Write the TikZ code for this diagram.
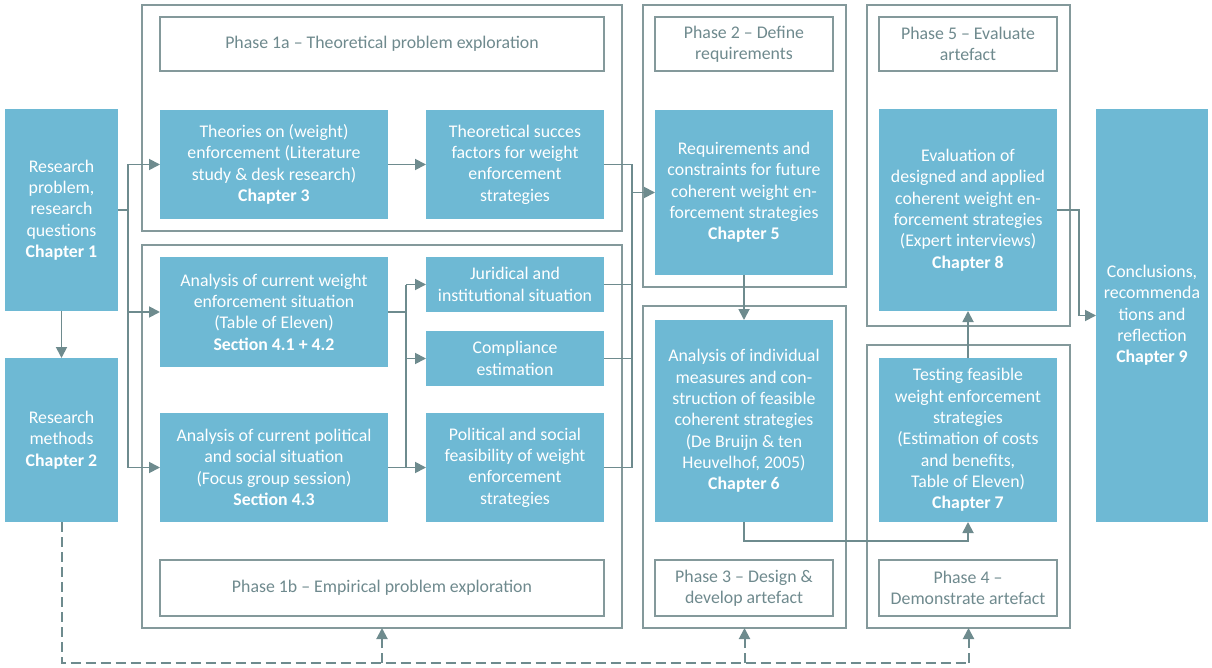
\documentclass[tikz,border=0pt]{standalone}
\usepackage{fontspec}
\setmainfont{Carlito}
\usetikzlibrary{arrows.meta}
\definecolor{boxblue}{HTML}{6EB9D4}
\definecolor{linegray}{HTML}{6E8B8E}
\definecolor{framegray}{HTML}{84999B}
\definecolor{titlegray}{HTML}{6F8A8E}
\tikzset{
  blk/.style={fill=boxblue, text=white, align=center, inner sep=0pt, outer sep=0pt, anchor=north west, font=\fontsize{17.8}{21.3}\selectfont},
  frm/.style={draw=framegray, line width=1.3pt, inner sep=0pt, outer sep=0pt, anchor=north west},
  ttl/.style={draw=framegray, line width=1.3pt, fill=white, text=titlegray, align=center, inner sep=0pt, outer sep=0pt, anchor=north west, font=\fontsize{17.8}{21.3}\selectfont},
  wire/.style={draw=linegray, line width=1.8pt},
  arr/.style={wire, -{Triangle[length=11pt,width=11pt]}},
  dsh/.style={draw=linegray, line width=2pt, dash pattern=on 10pt off 5pt},
  darr/.style={dsh, -{Triangle[length=11pt,width=11pt]}},
}
% box helper: name, left, top, right, bottom, style, text
\newcommand{\placebox}[7]{\node[#6, minimum width={#4-#2}, minimum height={#5-#3}] (#1) at (#2,#3) {#7};}
\begin{document}
\begin{tikzpicture}[x=1pt,y=-1pt]
\useasboundingbox (0,0) rectangle (1212,668);

% phase frames
\placebox{pa}{142}{5}{622}{231}{frm}{}
\placebox{pb}{142}{245}{622}{628}{frm}{}
\placebox{p2}{643}{5}{846}{287}{frm}{}
\placebox{p3}{643}{306}{846}{628}{frm}{}
\placebox{p5}{867}{5}{1070}{326}{frm}{}
\placebox{p4}{867}{345}{1070}{628}{frm}{}

% phase titles
\placebox{tA}{160}{17}{604}{71}{ttl}{Phase 1a – Theoretical problem exploration}
\placebox{tB}{160}{560}{604}{616}{ttl}{Phase 1b – Empirical problem exploration}
\placebox{t2}{655}{17}{833}{71}{ttl}{Phase 2 – Define\\requirements}
\placebox{t3}{655}{560}{833}{616}{ttl}{Phase 3 – Design \&\\develop artefact}
\placebox{t5}{879}{17}{1057}{71}{ttl}{Phase 5 – Evaluate\\artefact}
\placebox{t4}{879}{560}{1057}{616}{ttl}{Phase 4 –\\Demonstrate artefact}

% content boxes
\placebox{rp}{5}{109}{118}{311}{blk}{Research\\problem,\\research\\questions\\\textbf{Chapter 1}}
\placebox{rm}{5}{358}{118}{522}{blk}{Research\\methods\\\textbf{Chapter 2}}
\placebox{th}{160}{110}{388}{219}{blk}{Theories on (weight)\\enforcement (Literature\\study \& desk research)\\\textbf{Chapter 3}}
\placebox{ts}{426}{110}{604}{219}{blk}{Theoretical succes\\factors for weight\\enforcement\\strategies}
\placebox{aw}{160}{257}{388}{367}{blk}{Analysis of current weight\\enforcement situation\\(Table of Eleven)\\\textbf{Section 4.1 + 4.2}}
\placebox{ap}{160}{413}{388}{522}{blk}{Analysis of current political\\and social situation\\(Focus group session)\\\textbf{Section 4.3}}
\placebox{ju}{426}{257}{604}{312}{blk}{Juridical and\\institutional situation}
\placebox{co}{426}{331}{604}{386}{blk}{Compliance\\estimation}
\placebox{pf}{426}{413}{604}{522}{blk}{Political and social\\feasibility of weight\\enforcement\\strategies}
\placebox{rq}{655}{110}{833}{275}{blk}{Requirements and\\constraints for future\\coherent weight en-\\forcement strategies\\\textbf{Chapter 5}}
\placebox{ai}{655}{320}{833}{522}{blk}{Analysis of individual\\measures and con-\\struction of feasible\\coherent strategies\\(De Bruijn \& ten\\Heuvelhof, 2005)\\\textbf{Chapter 6}}
\placebox{ev}{879}{109}{1057}{311}{blk}{Evaluation of\\designed and applied\\coherent weight en-\\forcement strategies\\(Expert interviews)\\\textbf{Chapter 8}}
\placebox{te}{879}{358}{1057}{522}{blk}{Testing feasible\\weight enforcement\\strategies\\(Estimation of costs\\and benefits,\\Table of Eleven)\\\textbf{Chapter 7}}
\placebox{cn}{1096}{109}{1208}{522}{blk}{Conclusions,\\recommenda\\tions and\\reflection\\\textbf{Chapter 9}}

% junction columns
\coordinate (jA) at (128,0);
\coordinate (jB) at (406,0);
\coordinate (jC) at (632,0);
\coordinate (jD) at (1079,0);
\coordinate (jE) at (0,663);

% research problem fans out to the phase 1 analyses
\draw[wire] (rp.east) -- (rp.east -| jA);
\draw[wire] (th.west -| jA) -- (ap.west -| jA);
\draw[arr] (th.west -| jA) -- (th.west);
\draw[arr] (aw.west -| jA) -- (aw.west);
\draw[arr] (ap.west -| jA) -- (ap.west);
\draw[arr] (rp.south) -- (rm.north);

% phase 1a chain
\draw[arr] (th.east) -- (ts.west);

% phase 1b analyses feed the three findings
\draw[wire] (aw.east) -- (aw.east -| jB);
\draw[wire] (ap.east) -- (ap.east -| jB);
\draw[wire] (ju.west -| jB) -- (pf.west -| jB);
\draw[arr] (ju.west -| jB) -- (ju.west);
\draw[arr] (co.west -| jB) -- (co.west);
\draw[arr] (pf.west -| jB) -- (pf.west);

% findings merge into the requirements
\draw[wire] (ts.east) -- (ts.east -| jC);
\draw[wire] (ju.east) -- (ju.east -| jC);
\draw[wire] (co.east) -- (co.east -| jC);
\draw[wire] (pf.east) -- (pf.east -| jC);
\draw[wire] (ts.east -| jC) -- (pf.east -| jC);
\draw[arr] (rq.west -| jC) -- (rq.west);

% design, demonstration, evaluation, conclusions
\draw[arr] (rq.south) -- (ai.north);
\draw[arr] (ai.south) -- ++(0,19) -| (te.south);
\draw[arr] (te.north) -- (ev.south);
\draw[arr] (ev.east) -- (ev.east -| jD) |- (cn.west);

% research methods support every phase
\draw[dsh] (rm.south) -- (rm.south |- jE) -- (te.south |- jE);
\draw[darr] (pb.south |- jE) -- (pb.south);
\draw[darr] (p3.south |- jE) -- (p3.south);
\draw[darr] (p4.south |- jE) -- (p4.south);
\end{tikzpicture}
\end{document}
